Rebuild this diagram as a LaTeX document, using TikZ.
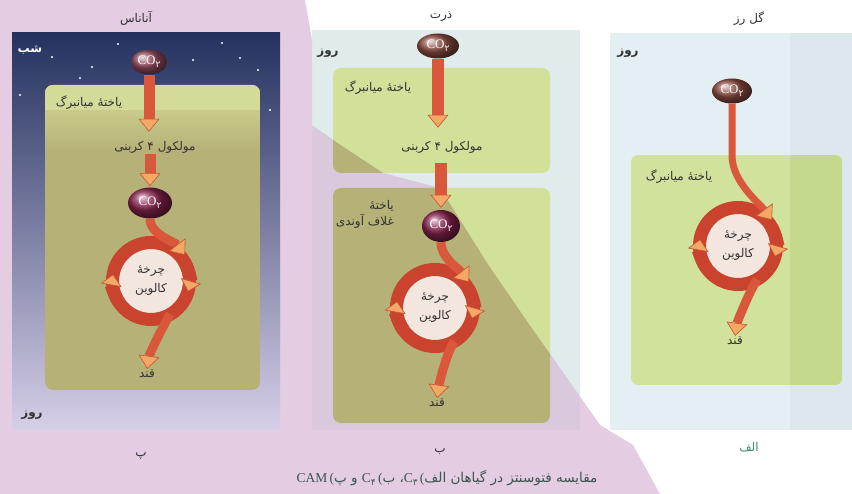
\documentclass[tikz,border=0pt]{standalone}
\usepackage{fontspec}
\setmainfont{Liberation Serif}
\newfontfamily\fa[Script=Arabic]{DejaVu Sans}
\TeXXeTstate=1
\usetikzlibrary{arrows.meta,shapes.geometric}
\newcommand\R[1]{\beginR#1\endR}
\newcommand\cotwo{CO\raisebox{-0.45ex}{\fa\fontsize{9}{9}\selectfont ۲}}
\newcommand\Csub[1]{C\raisebox{-0.45ex}{\fa\fontsize{9}{9}\selectfont #1}}
\definecolor{pinkwm}{HTML}{E4CCE2}
\definecolor{nightA}{HTML}{24315F}
\definecolor{nightB}{HTML}{8A84BF}
\definecolor{nightC}{HTML}{D6CFE8}
\definecolor{boxlight}{HTML}{D4DA98}
\definecolor{olive}{HTML}{B6B177}
\definecolor{skybg}{HTML}{E0ECEC}
\definecolor{skypink}{HTML}{DAC8DC}
\definecolor{leafgreen}{HTML}{D1E19A}
\definecolor{rskybg}{HTML}{E3EFF3}
\definecolor{rskystrip}{HTML}{DCE8EB}
\definecolor{rleaf}{HTML}{D0E29C}
\definecolor{rleafstrip}{HTML}{C5D98C}
\definecolor{shaft}{HTML}{D9573A}
\definecolor{tipfill}{HTML}{F3A866}
\definecolor{tipedge}{HTML}{C9522F}
\definecolor{ringred}{HTML}{C9432F}
\definecolor{ringcore}{HTML}{F3E6DE}
\definecolor{co2brown}{HTML}{8E4E42}
\definecolor{co2mauve}{HTML}{944C5E}
\definecolor{co2mag}{HTML}{8A2350}
\definecolor{txt}{HTML}{333333}
\definecolor{capcol}{HTML}{3A5550}
\definecolor{alefgreen}{HTML}{3F8A6A}
\tikzset{
  x=1pt, y=-1pt,
  fa/.style={font=\fa\fontsize{12}{14}\selectfont, text=txt, inner sep=0pt},
  daylbl/.style={font=\fa\bfseries\fontsize{12}{14}\selectfont, text=txt, inner sep=0pt},
  co2/.style={ellipse, inner sep=0pt, ball color=#1, text=white,
    font=\fontsize{13}{13}\selectfont},
  stem/.style={line width=#1, draw=shaft,
    -{Triangle[width=21pt,length=13pt,color=tipedge,fill=tipfill,line width=0.6pt]}},
  stem/.default=9pt,
  ringarrow/.style={line width=13pt, draw=ringred,
    -{Triangle[width=21pt,length=11pt,color=tipedge,fill=tipfill,line width=0.6pt]}},
  calvin/.pic={
    \fill[ringcore] (0,0) circle[radius=32];
    \draw[ringred, line width=13pt] (0,0) circle[radius=38.5];
    \draw[ringarrow] (-30:38.5) arc[start angle=-30, end angle=16, radius=38.5];
    \draw[ringarrow] (145:38.5) arc[start angle=145, end angle=190, radius=38.5];
    \node[fa, align=center, font=\fa\fontsize{12}{19}\selectfont] (-core) at (0,0) {\R{چرخهٔ}\\\R{کالوین}};
    \coordinate (-in) at (34,-26);
    \coordinate (-out) at (60:38.5);
  }
}
\begin{document}
\begin{tikzpicture}
\useasboundingbox (0,0) rectangle (852,494);
\fill[white] (0,0) rectangle (852,494);
% watermark band
\def\wmpath{(0,0) -- (305,0) -- (312,40) -- (312,125) -- (336,142) -- (383,173) -- (440,188) -- (487,263) -- (533,330) -- (565,375) -- (600,425) -- (633,445) -- (660,494) -- (0,494) -- cycle}
\fill[pinkwm] \wmpath;

% ================= left panel (pineapple, CAM) =================
\shade[top color=nightA, middle color=nightB, bottom color=nightC] (12,33) rectangle (280,430);
\foreach \p in {(52,57),(92,67),(193,60),(222,43),(258,70),(240,58),(80,78),(118,44),(270,110),(20,95)}
  \fill[white] \p circle[radius=1.1];
\begin{scope}
  \clip[rounded corners=8pt] (45,85) rectangle (260,390);
  \fill[olive] (45,85) rectangle (260,390);
  \shade[top color=boxlight, bottom color=olive] (45,85) rectangle (260,152);
  \fill[boxlight] (45,85) rectangle (260,110);
\end{scope}
\node[fa] (L-title) at (136,18) {\R{آناناس}};
\node[daylbl, text=white] (L-night) at (30,50) {\R{شب}};
\node[daylbl] (L-day) at (32,415) {\R{روز}};
\node[fa] (L-meso) at (89,103) {\R{یاختهٔ میانبرگ}};
\node[co2=co2mauve, minimum width=36pt, minimum height=25pt] (L-co2a) at (149,62) {\cotwo};
\node[fa] (L-mol) at (155,147) {\R{مولکول ۴ کربنی}};
\node[co2=co2mag, minimum width=44pt, minimum height=31pt] (L-co2b) at (150,203) {\cotwo};
\pic (L) at (151,281) {calvin};
\node[fa] (L-sugar) at (147,374) {\R{قند}};
\draw[stem=11pt, shorten >=9pt] (L-co2a.south) -- (L-mol.north-|L-co2a.south);
\draw[stem=11pt, shorten >=1pt, shorten <=1pt] (L-mol.south-|L-co2b.north) -- (L-co2b.north);
\draw[stem] (L-co2b.south) .. controls +(0,16) and +(-10,-13) .. (L-in);
\draw[stem, shorten >=1pt] (L-out) .. controls +(-8,12) and +(2,-14) .. (L-sugar.north);
\node[fa] (L-lbl) at (141,456) {\R{پ}};

% ================= middle panel (corn, C4) =================
\fill[skybg] (312,30) rectangle (580,430);
\fill[leafgreen, rounded corners=8pt] (333,68) rectangle (550,173);
\fill[leafgreen, rounded corners=8pt] (333,188) rectangle (550,423);
\begin{scope}
  \clip \wmpath;
  \fill[skypink] (312,30) rectangle (580,430);
  \fill[olive, rounded corners=8pt] (333,68) rectangle (550,173);
  \fill[olive, rounded corners=8pt] (333,188) rectangle (550,423);
\end{scope}
\node[fa] (M-title) at (441,16) {\R{ذرت}};
\node[daylbl] (M-day) at (328,53) {\R{روز}};
\node[fa] (M-meso) at (378,88) {\R{یاختهٔ میانبرگ}};
\node[co2=co2brown, minimum width=42pt, minimum height=25pt] (M-co2a) at (438,46) {\cotwo};
\node[fa] (M-mol) at (442,147) {\R{مولکول ۴ کربنی}};
\node[fa, align=right, anchor=east, font=\fa\fontsize{12}{16}\selectfont] (M-bs) at (394,214) {\R{یاختهٔ}\\\R{غلاف آوندی}};
\node[co2=co2mag, minimum width=38pt, minimum height=32pt] (M-co2b) at (441,226) {\cotwo};
\pic (M) at (435,308) {calvin};
\node[fa] (M-sugar) at (437,403) {\R{قند}};
\draw[stem=12pt, shorten >=13pt] (M-co2a.south) -- (M-mol.north-|M-co2a.south);
\draw[stem=12pt, shorten <=10pt, shorten >=2pt] (M-mol.south-|M-co2b.north) -- (M-co2b.north);
\draw[stem] (M-co2b.south) .. controls +(0,16) and +(-10,-13) .. (M-in);
\draw[stem, shorten >=1pt] (M-out) .. controls +(-8,12) and +(2,-14) .. (M-sugar.north);
\node[fa] (M-lbl) at (440,452) {\R{ب}};

% ================= right panel (rose, C3) =================
\fill[rskybg] (610,33) rectangle (852,430);
\fill[rskystrip] (790,33) rectangle (852,430);
\begin{scope}
  \clip[rounded corners=7pt] (631,155) rectangle (842,385);
  \fill[rleaf] (631,155) rectangle (842,385);
  \fill[rleafstrip] (790,155) rectangle (842,385);
\end{scope}
\node[fa] (R-title) at (749,19) {\R{گل رز}};
\node[daylbl] (R-day) at (628,53) {\R{روز}};
\node[fa] (R-meso) at (679,177) {\R{یاختهٔ میانبرگ}};
\node[co2=co2brown, minimum width=40pt, minimum height=25pt] (R-co2) at (732,91) {\cotwo};
\pic (R) at (738,246) {calvin};
\node[fa] (R-sugar) at (735,341) {\R{قند}};
\draw[stem=7pt] (R-co2.south) -- ++(0,52) .. controls +(0,26) and +(-12,-16) .. (R-in);
\draw[stem, shorten >=1pt] (R-out) .. controls +(-8,12) and +(2,-14) .. (R-sugar.north);
\node[fa, text=alefgreen] (R-lbl) at (749,447) {\R{الف}};

% ================= caption =================
\node[inner sep=0pt, text=capcol, font=\fa\fontsize{13.5}{15}\selectfont] (caption) at (447,478)
  {{\rmfamily CAM\,(}\R{و پ}\ {\rmfamily\Csub{۴}\,(}\R{ب}\ ،{\rmfamily\Csub{۳}\,(}\R{مقایسه فتوسنتز در گیاهان الف}};
\end{tikzpicture}
\end{document}
